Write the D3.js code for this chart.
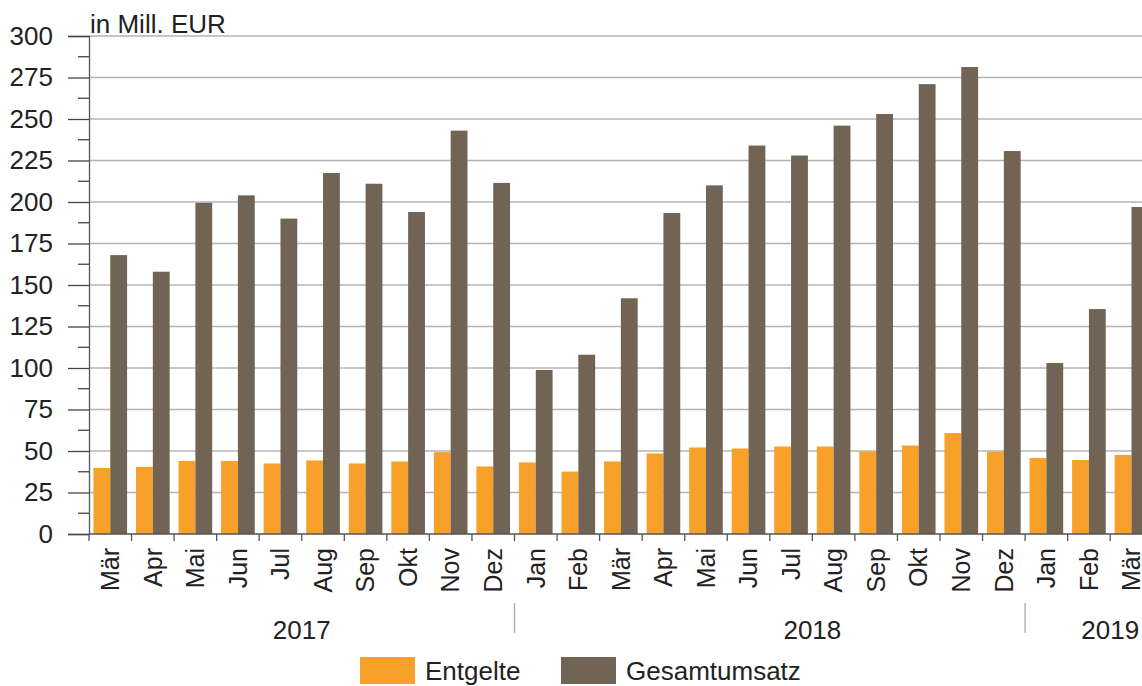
<!DOCTYPE html>
<html>
<head>
<meta charset="utf-8">
<script src="https://cdn.jsdelivr.net/npm/d3@7"></script>
<style>
  body { margin: 0; background: #fff; }
  svg { display: block; font-family: "Liberation Sans", Arial, sans-serif; }
</style>
</head>
<body>
<svg id="chart"></svg>
<script>
// data

var months = ["Mär","Apr","Mai","Jun","Jul","Aug","Sep","Okt","Nov","Dez",
              "Jan","Feb","Mär","Apr","Mai","Jun","Jul","Aug","Sep","Okt","Nov","Dez",
              "Jan","Feb","Mär"];

var entgelte = [39.8, 40.4, 44, 44, 42.5, 44.3, 42.5, 43.7, 49.3, 40.7,
                43.1, 37.6, 43.7, 48.5, 52.1, 51.5, 52.7, 52.7, 49.7, 53.3, 60.8, 49.6,
                45.8, 44.6, 47.6];

var gesamtumsatz = [168, 158, 199.5, 204, 190, 217.5, 211, 194, 243, 211.5,
                    98.8, 108, 142, 193.4, 210, 234, 228, 246, 253, 271, 281.3, 230.7,
                    103, 135.5, 197];

var seriesNames = ["Entgelte", "Gesamtumsatz"];
var seriesColors = ["#f7a02a", "#716455"];

var yTicks = [0, 25, 50, 75, 100, 125, 150, 175, 200, 225, 250, 275, 300];

var years = ["2017", "2018", "2019"];
var yearLabelAt = [5, 17, 24];     // category boundary the year label is centred on
var yearBreaks = [10, 22];         // separator before these categories

// layout

var width = 1142, height = 686;
var plotLeft = 89, plotTop = 36, plotBottom = 534;
var step = 42.55;
var fontSize = 26;

var svg = d3.select("#chart").attr("width", width).attr("height", height);

var idx = d3.range(months.length);

var x0 = d3.scaleBand()
    .domain(idx)
    .range([plotLeft, plotLeft + step * months.length])
    .padding(0);

var x1 = d3.scaleBand()
    .domain(seriesNames)
    .range([0, x0.bandwidth()])
    .paddingInner(0)
    .paddingOuter(0.265);

var y = d3.scaleLinear().domain([0, 300]).range([plotBottom, plotTop]);

// gridlines
svg.append("g")
    .selectAll("line")
    .data(yTicks.filter(function(d){ return d > 0; }))
    .enter()
    .append("line")
    .attr("x1", plotLeft)
    .attr("x2", width)
    .attr("y1", function(d){ return y(d); })
    .attr("y2", function(d){ return y(d); })
    .attr("stroke", "#b4b4b4")
    .attr("stroke-width", 1.3);

// bars
var groups = svg.append("g")
    .selectAll("g")
    .data(idx)
    .enter()
    .append("g")
    .attr("transform", function(i){ return "translate(" + x0(i) + ",0)"; });

groups.selectAll("rect")
    .data(function(i){
        return [{s: seriesNames[0], v: entgelte[i], c: seriesColors[0]},
                {s: seriesNames[1], v: gesamtumsatz[i], c: seriesColors[1]}];
    })
    .enter()
    .append("rect")
    .attr("x", function(d){ return x1(d.s); })
    .attr("width", x1.bandwidth())
    .attr("y", function(d){ return y(d.v); })
    .attr("height", function(d){ return y(0) - y(d.v); })
    .attr("fill", function(d){ return d.c; });

// y axis with major and minor ticks
var yAxis = d3.axisLeft(y).tickValues(yTicks).tickSize(21).tickPadding(15);
var gy = svg.append("g")
    .attr("transform", "translate(" + plotLeft + ",0)")
    .call(yAxis);
gy.select(".domain").attr("stroke", "#555").attr("stroke-width", 1.3);
gy.selectAll(".tick line").attr("stroke", "#444").attr("stroke-width", 1.3);
gy.selectAll(".tick text")
    .attr("font-size", fontSize)
    .attr("fill", "#222")
    .attr("font-family", "Liberation Sans, Arial, sans-serif");

var minor = d3.range(12.5, 300, 25);
gy.selectAll(".minor")
    .data(minor)
    .enter()
    .append("line")
    .attr("class", "minor")
    .attr("x1", -11)
    .attr("x2", 0)
    .attr("y1", function(d){ return y(d); })
    .attr("y2", function(d){ return y(d); })
    .attr("stroke", "#444")
    .attr("stroke-width", 1.3);

// x axis line and ticks at category boundaries
svg.append("line")
    .attr("x1", plotLeft).attr("x2", width)
    .attr("y1", plotBottom).attr("y2", plotBottom)
    .attr("stroke", "#555").attr("stroke-width", 1.3);

svg.append("g")
    .selectAll("line")
    .data(d3.range(months.length + 1))
    .enter()
    .append("line")
    .attr("x1", function(i){ return plotLeft + step * i; })
    .attr("x2", function(i){ return plotLeft + step * i; })
    .attr("y1", plotBottom)
    .attr("y2", plotBottom + 7)
    .attr("stroke", "#555")
    .attr("stroke-width", 1.3);

// month labels, rotated
svg.append("g")
    .selectAll("text")
    .data(idx)
    .enter()
    .append("text")
    .attr("transform", function(i){
        return "translate(" + (x0(i) + x0.bandwidth() / 2) + "," + (plotBottom + 14) + ") rotate(-90)";
    })
    .attr("text-anchor", "end")
    .attr("dy", "0.35em")
    .attr("font-size", 25)
    .attr("fill", "#222")
    .text(function(i){ return months[i]; });

// year separators and labels
svg.append("g")
    .selectAll("line")
    .data(yearBreaks)
    .enter()
    .append("line")
    .attr("x1", function(i){ return x0(i); })
    .attr("x2", function(i){ return x0(i); })
    .attr("y1", 603)
    .attr("y2", 633)
    .attr("stroke", "#aaa")
    .attr("stroke-width", 1.3);

svg.append("g")
    .selectAll("text")
    .data(years)
    .enter()
    .append("text")
    .attr("x", function(d, i){ return plotLeft + step * yearLabelAt[i]; })
    .attr("y", 639)
    .attr("text-anchor", "middle")
    .attr("font-size", fontSize)
    .attr("fill", "#222")
    .text(function(d){ return d; });

// unit label
svg.append("text")
    .attr("x", 90)
    .attr("y", 33)
    .attr("font-size", fontSize)
    .attr("fill", "#222")
    .text("in Mill. EUR");

// legend
var legendX = [360, 561];
var legend = svg.append("g")
    .selectAll("g")
    .data(seriesNames)
    .enter()
    .append("g")
    .attr("transform", function(d, i){ return "translate(" + legendX[i] + ",657)"; });

legend.append("rect")
    .attr("width", 55)
    .attr("height", 27)
    .attr("fill", function(d, i){ return seriesColors[i]; });

legend.append("text")
    .attr("x", 65)
    .attr("y", 23)
    .attr("font-size", fontSize)
    .attr("fill", "#222")
    .text(function(d){ return d; });
</script>
</body>
</html>
